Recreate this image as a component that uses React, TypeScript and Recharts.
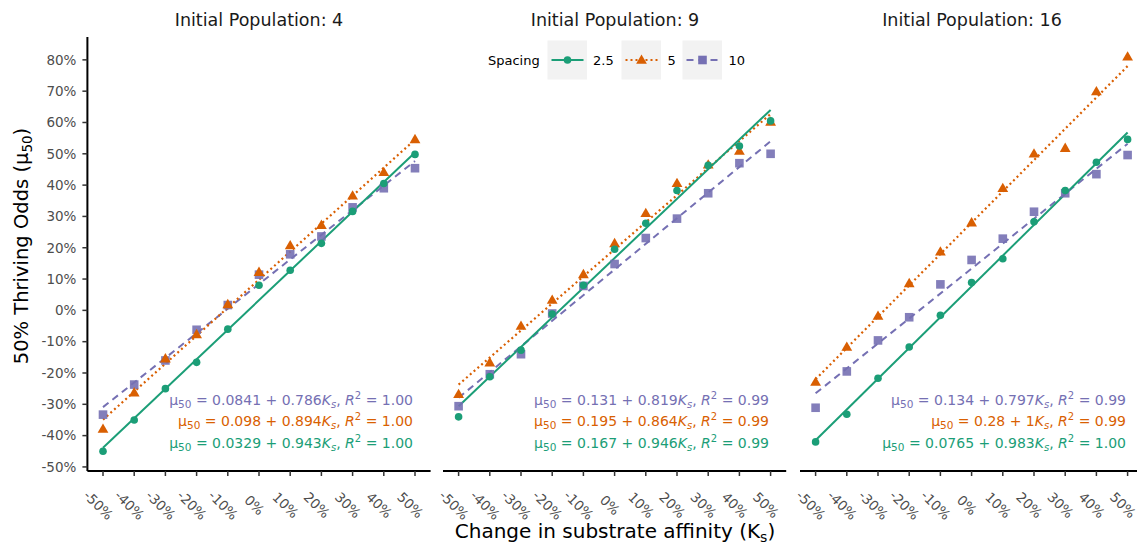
import { ComposedChart, Line, XAxis, YAxis } from "recharts"

const ks = [-50, -40, -30, -20, -10, 0, 10, 20, 30, 40, 50]
const yTicks = [-50, -40, -30, -20, -10, 0, 10, 20, 30, 40, 50, 60, 70, 80]
const titles = ["Initial Population: 4", "Initial Population: 9", "Initial Population: 16"]
const spacings = ["2.5", "5", "10"]

// thriving odds (%) read per spacing, one array per panel
const pop4Sp25 = [-45, -35, -25, -16.6, -6, 8, 12.8, 21.4, 31.6, 40.5, 49.8]
const pop4Sp5 = [-37.9, -26.3, -15.4, -7.7, 1.9, 12.2, 20.7, 27.2, 36.6, 44.1, 54.6]
const pop4Sp10 = [-33.3, -23.7, -16, -6.2, 1.7, 11.4, 17.9, 23.6, 32.9, 39, 45.4]

const pop9Sp25 = [-34, -21.2, -12.7, -1.2, 8, 19.5, 27.8, 38.3, 46.3, 52.5, 60.5]
const pop9Sp5 = [-26.8, -16.7, -5, 3.3, 11.5, 21.4, 31, 40.6, 46.5, 50.9, 60.2]
const pop9Sp10 = [-30.6, -20.4, -14, -1, 7.8, 14.8, 23.1, 29.3, 37.4, 47, 50]

const pop16Sp25 = [-42, -33.2, -21.7, -11.7, -1.6, 8.9, 16.5, 28.3, 38.3, 47.3, 54.6]
const pop16Sp5 = [-22.9, -11.7, -1.8, 8.6, 18.7, 28, 39, 50, 51.8, 69.9, 81]
const pop16Sp10 = [-31.1, -19.5, -9.6, -2.2, 8.3, 16.1, 22.9, 31.5, 37.4, 43.5, 49.6]

// fitted line values at -50% and +50%
const pop4Fit = [[-43.9, 50.4], [-34.9, 54.5], [-30.9, 47.7]]
const pop9Fit = [[-30.6, 64], [-23.7, 62.7], [-27.9, 54]]
const pop16Fit = [[-41.5, 56.8], [-22, 78], [-26.5, 53.2]]

// equation text: intercept, slope, R2 (listed purple, orange, green like the figure)
const pop4Eq = [["0.0841", "0.786", "1.00"], ["0.098", "0.894", "1.00"], ["0.0329", "0.943", "1.00"]]
const pop9Eq = [["0.131", "0.819", "0.99"], ["0.195", "0.864", "0.99"], ["0.167", "0.946", "0.99"]]
const pop16Eq = [["0.134", "0.797", "0.99"], ["0.28", "1", "0.99"], ["0.0765", "0.983", "1.00"]]

const GREEN = "#1b9e77"
const ORANGE = "#d95f02"
const PURPLE = "#7570b3"
const FONT = "DejaVu Sans"

const panels = [
  { sp: [pop4Sp25, pop4Sp5, pop4Sp10], fit: pop4Fit, eq: pop4Eq },
  { sp: [pop9Sp25, pop9Sp5, pop9Sp10], fit: pop9Fit, eq: pop9Eq },
  { sp: [pop16Sp25, pop16Sp5, pop16Sp10], fit: pop16Fit, eq: pop16Eq },
]

const plotLefts = [87.4, 443.4, 800.4]
const PLOT_W = 343.2

const circleDot = (p: any) => (
  <circle key={`c-${p.index}`} cx={p.cx} cy={p.cy} r={3.8} fill={GREEN} />
)
const triDot = (p: any) => (
  <polygon
    key={`t-${p.index}`}
    points={`${p.cx},${p.cy - 5.6} ${p.cx - 5.4},${p.cy + 3.8} ${p.cx + 5.4},${p.cy + 3.8}`}
    fill={ORANGE}
  />
)
const sqDot = (p: any) => (
  <rect key={`s-${p.index}`} x={p.cx - 4.3} y={p.cy - 4.3} width={8.6} height={8.6} fill={PURPLE} fillOpacity={0.9} />
)

function XTick(props: any) {
  const { x, y, payload } = props
  return (
    <g transform={`translate(${x - 4.5},${y + 27}) rotate(45)`}>
      <text textAnchor="middle" dominantBaseline="central" fontSize={13.5} fontFamily={FONT} fill="#4d4d4d">
        {`${payload.value}%`}
      </text>
    </g>
  )
}

function Panel({ idx }: { idx: number }) {
  const p = panels[idx]
  const rows = ks.map((k, i) => ({ k, g: p.sp[0][i], o: p.sp[1][i], pu: p.sp[2][i] }))
  const fitRows = (j: number) => [
    { k: -50, v: p.fit[j][0] },
    { k: 50, v: p.fit[j][1] },
  ]
  const first = idx === 0
  const left = first ? 0 : plotLefts[idx] - 10
  const width = first ? 440 : 360
  return (
    <div style={{ position: "absolute", left, top: 0 }}>
      <ComposedChart
        width={width}
        height={545}
        data={rows}
        margin={{ top: 37, right: width - (first ? 87.4 : 10) - PLOT_W, bottom: 0, left: first ? 27.4 : 10 }}
      >
        <XAxis
          type="number"
          dataKey="k"
          domain={[-55, 55]}
          ticks={ks}
          interval={0}
          allowDataOverflow
          height={74}
          axisLine={{ stroke: "#000", strokeWidth: 2 }}
          tickLine={{ stroke: "#333", strokeWidth: 1.5 }}
          tickSize={5}
          tick={<XTick />}
        />
        {first ? (
          <YAxis
            type="number"
            domain={[-51.3, 87.3]}
            ticks={yTicks}
            interval={0}
            allowDataOverflow
            width={60}
            axisLine={{ stroke: "#000", strokeWidth: 2 }}
            tickLine={{ stroke: "#333", strokeWidth: 1.5 }}
            tickSize={5}
            tickMargin={6}
            tickFormatter={(v: number) => `${v}%`}
            tick={{ fontSize: 13.5, fontFamily: FONT, fill: "#4d4d4d" }}
          />
        ) : (
          <YAxis hide type="number" domain={[-51.3, 87.3]} allowDataOverflow />
        )}
        <Line dataKey="pu" stroke="none" dot={sqDot} activeDot={false} isAnimationActive={false} />
        <Line dataKey="o" stroke="none" dot={triDot} activeDot={false} isAnimationActive={false} />
        <Line dataKey="g" stroke="none" dot={circleDot} activeDot={false} isAnimationActive={false} />
        <Line data={fitRows(2)} dataKey="v" type="linear" stroke={PURPLE} strokeWidth={2} strokeDasharray="7 5" dot={false} activeDot={false} isAnimationActive={false} />
        <Line data={fitRows(1)} dataKey="v" type="linear" stroke={ORANGE} strokeWidth={2.2} strokeDasharray="2 3" dot={false} activeDot={false} isAnimationActive={false} />
        <Line data={fitRows(0)} dataKey="v" type="linear" stroke={GREEN} strokeWidth={2} dot={false} activeDot={false} isAnimationActive={false} />
      </ComposedChart>
    </div>
  )
}

function Equation({ x, y, color, eq }: { x: number; y: number; color: string; eq: string[] }) {
  return (
    <text x={x} y={y} textAnchor="end" fontSize={14} fontFamily={FONT} fill={color}>
      μ<tspan fontSize={10.5} dy={3}>50</tspan>
      <tspan dy={-3}>{` = ${eq[0]} + ${eq[1]}`}</tspan>
      <tspan fontStyle="italic">K</tspan>
      <tspan fontSize={10} fontStyle="italic" dy={3}>s</tspan>
      <tspan dy={-3}>, </tspan>
      <tspan fontStyle="italic">R</tspan>
      <tspan fontSize={10} dy={-6}>2</tspan>
      <tspan dy={6}>{` = ${eq[2]}`}</tspan>
    </text>
  )
}

function LegendKey({ x, color, dash, shape }: { x: number; color: string; dash?: string; shape: string }) {
  const cx = x + 20
  const cy = 60
  return (
    <g>
      <rect x={x} y={40.5} width={39.5} height={39} fill="#f2f2f2" />
      <line x1={x + 4} x2={x + 36} y1={cy} y2={cy} stroke={color} strokeWidth={2} strokeDasharray={dash} />
      {shape === "circle" && <circle cx={cx} cy={cy} r={3.8} fill={color} />}
      {shape === "tri" && (
        <polygon points={`${cx},${cy - 5.6} ${cx - 5.4},${cy + 3.8} ${cx + 5.4},${cy + 3.8}`} fill={color} />
      )}
      {shape === "sq" && <rect x={cx - 4.3} y={cy - 4.3} width={8.6} height={8.6} fill={color} />}
    </g>
  )
}

export default function App() {
  const eqColors = [PURPLE, ORANGE, GREEN]
  return (
    <div style={{ position: "absolute", left: 0, top: 0, width: 1137, height: 545, overflow: "hidden", background: "#fff" }}>
      {[0, 1, 2].map((i) => (
        <Panel key={i} idx={i} />
      ))}
      <svg width={1137} height={545} style={{ position: "absolute", left: 0, top: 0, pointerEvents: "none" }}>
        {titles.map((t, i) => (
          <text key={t} x={plotLefts[i] + PLOT_W / 2} y={26} textAnchor="middle" fontSize={17.5} fontFamily={FONT} fill="#1a1a1a">
            {t}
          </text>
        ))}
        <text transform="translate(28,246) rotate(-90)" textAnchor="middle" fontSize={19.5} fontFamily={FONT} fill="#000">
          50% Thriving Odds (μ<tspan fontSize={13.5} dy={4}>50</tspan>
          <tspan dy={-4}>)</tspan>
        </text>
        <text x={615} y={538} textAnchor="middle" fontSize={20} fontFamily={FONT} fill="#000">
          Change in substrate affinity (K<tspan fontSize={14} dy={4}>s</tspan>
          <tspan dy={-4}>)</tspan>
        </text>
        {panels.map((p, i) =>
          p.eq.map((e, j) => (
            <Equation key={`${i}-${j}`} x={plotLefts[i] + 325.6} y={405 + j * 21.3} color={eqColors[j]} eq={e} />
          ))
        )}
        <text x={488} y={65} fontSize={13} fontFamily={FONT} fill="#000">Spacing</text>
        <LegendKey x={547.5} color={GREEN} shape="circle" />
        <text x={593} y={65} fontSize={13} fontFamily={FONT} fill="#000">{spacings[0]}</text>
        <LegendKey x={621.5} color={ORANGE} dash="2 3" shape="tri" />
        <text x={667.5} y={65} fontSize={13} fontFamily={FONT} fill="#000">{spacings[1]}</text>
        <LegendKey x={682.5} color={PURPLE} dash="7 5" shape="sq" />
        <text x={728.5} y={65} fontSize={13} fontFamily={FONT} fill="#000">{spacings[2]}</text>
      </svg>
    </div>
  )
}
